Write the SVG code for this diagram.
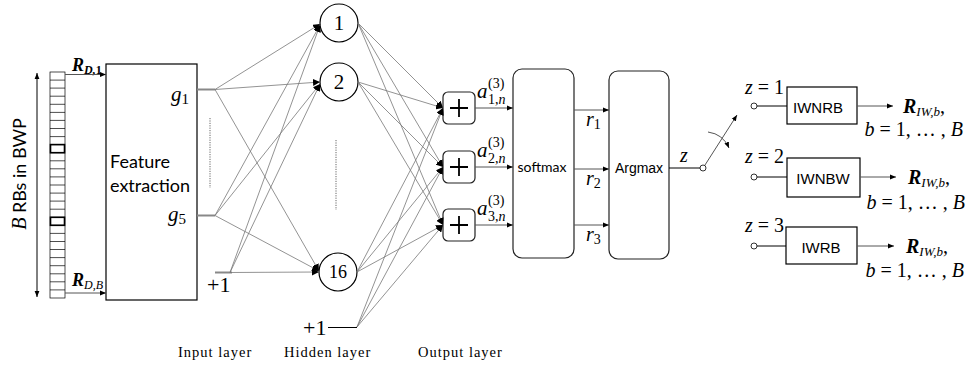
<svg xmlns="http://www.w3.org/2000/svg" width="969" height="369" viewBox="0 0 969 369">
<defs>
<style>
.box{fill:#fff;stroke:#000;stroke-width:1.2}
.rbox{fill:#fff;stroke:#222;stroke-width:1.2}
.cn{fill:none;stroke:#777;stroke-width:0.8}
.cd{fill:none;stroke:#555;stroke-width:1}
.thk{fill:none;stroke:#888;stroke-width:2}
.blk{fill:none;stroke:#000;stroke-width:1}
.dot{fill:none;stroke:#666;stroke-width:1;stroke-dasharray:1.2 1.2}
.math{font-family:"Liberation Serif","DejaVu Serif",serif;font-style:italic;fill:#000}
.num{font-family:"Liberation Serif","DejaVu Serif",serif;fill:#000}
.sans{font-family:Lato,"Open Sans","Liberation Sans",sans-serif;fill:#000}
.ar{font-family:"Liberation Sans",Arial,sans-serif;fill:#000}
.lay{font-family:"Liberation Serif","DejaVu Serif",serif;font-size:14.5px;letter-spacing:1px;fill:#000}
.cell{fill:#fff;stroke:#000;stroke-width:0.7}
</style>
<marker id="ah" viewBox="0 0 10 10" refX="10" refY="5" markerWidth="7" markerHeight="7" orient="auto" markerUnits="userSpaceOnUse"><path d="M0,0 L10,5 L0,10 z" fill="#000"/></marker>
<marker id="ahs" viewBox="0 0 10 10" refX="10" refY="5" markerWidth="6" markerHeight="6" orient="auto" markerUnits="userSpaceOnUse"><path d="M0,1 L10,5 L0,9 z" fill="#000"/></marker>
<marker id="ahu" viewBox="0 0 10 10" refX="10" refY="5" markerWidth="6" markerHeight="6" orient="auto-start-reverse" markerUnits="userSpaceOnUse"><path d="M0,1 L10,5 L0,9 z" fill="#000"/></marker>
</defs>
<rect width="969" height="369" fill="#fff"/>

<g id="bwp-label">
<text transform="translate(26,174) rotate(-90)" text-anchor="middle" font-size="18"><tspan class="math" font-size="20">B</tspan><tspan class="sans" font-family="Open Sans, Lato, sans-serif"> RBs in BWP</tspan></text>
<line x1="37" y1="73" x2="37" y2="297" class="blk" stroke-width="0.8" marker-start="url(#ahu)" marker-end="url(#ahu)"/>
</g>

<g id="rb-column">
<rect x="50" y="72" width="15" height="226" class="cell"/>
<path class="cell" fill="none" d="M50,80.1H65M50,88.1H65M50,96.2H65M50,104.3H65M50,112.4H65M50,120.4H65M50,128.5H65M50,136.6H65M50,144.6H65M50,152.7H65M50,160.8H65M50,168.8H65M50,176.9H65M50,185H65M50,193.1H65M50,201.1H65M50,209.2H65M50,217.3H65M50,225.3H65M50,233.4H65M50,241.5H65M50,249.5H65M50,257.6H65M50,265.7H65M50,273.8H65M50,281.8H65M50,289.9H65"/>
<rect x="50.5" y="144.6" width="14" height="8.1" fill="none" stroke="#000" stroke-width="1.6"/>
<rect x="50.5" y="217.3" width="14" height="8" fill="none" stroke="#000" stroke-width="1.6"/>
</g>

<g id="feature-extraction">
<rect x="106" y="64" width="91" height="236" class="box"/>
<text class="sans" font-family="Open Sans, Lato, sans-serif" font-size="18" x="110" y="168">Feature</text>
<text class="sans" font-family="Open Sans, Lato, sans-serif" font-size="18" x="110" y="192">extraction</text>
<text class="math" font-size="21" x="171" y="101">g<tspan font-style="normal" font-size="15" dy="3">1</tspan></text>
<text class="math" font-size="21" x="168" y="221">g<tspan font-style="normal" font-size="15" dy="3">5</tspan></text>
</g>

<g id="input-bias">
<text class="num" font-size="22" x="207" y="292">+1</text>
</g>

<g id="hidden-1"><circle cx="339" cy="23" r="19" class="box"/><text class="num" font-size="21" x="339" y="30" text-anchor="middle">1</text></g>
<g id="hidden-2"><circle cx="339" cy="82" r="19" class="box"/><text class="num" font-size="21" x="339" y="89" text-anchor="middle">2</text></g>
<g id="hidden-16"><circle cx="338" cy="272" r="19" class="box"/><text class="num" font-size="18" x="338" y="278" text-anchor="middle">16</text></g>
<g id="hidden-bias"><text class="num" font-size="22" x="303" y="335">+1</text></g>

<g id="sum-1"><rect x="443" y="92" width="32" height="32" rx="5" class="rbox"/><path d="M450,108H468M459,99V117" stroke="#000" stroke-width="1.8"/></g>
<g id="sum-2"><rect x="443" y="151" width="32" height="32" rx="5" class="rbox"/><path d="M450,167H468M459,158V176" stroke="#000" stroke-width="1.8"/></g>
<g id="sum-3"><rect x="443" y="209" width="32" height="32" rx="5" class="rbox"/><path d="M450,225H468M459,216V234" stroke="#000" stroke-width="1.8"/></g>

<g id="a-labels">
<text class="math" font-size="21" x="477" y="98">a</text><text class="num" font-size="14" x="488" y="88">(3)</text><text class="num" font-size="14" x="488" y="104">1,<tspan font-style="italic">n</tspan></text>
<text class="math" font-size="21" x="477" y="157">a</text><text class="num" font-size="14" x="488" y="147">(3)</text><text class="num" font-size="14" x="488" y="163">2,<tspan font-style="italic">n</tspan></text>
<text class="math" font-size="21" x="477" y="215">a</text><text class="num" font-size="14" x="488" y="205">(3)</text><text class="num" font-size="14" x="488" y="221">3,<tspan font-style="italic">n</tspan></text>
</g>

<g id="softmax"><rect x="513" y="69" width="61" height="189" rx="9" class="rbox"/><text class="sans" font-size="14" x="542" y="172" text-anchor="middle">softmax</text></g>
<g id="r-labels">
<text class="math" font-size="20" x="586" y="126">r<tspan font-style="normal" font-size="14" dy="3">1</tspan></text>
<text class="math" font-size="20" x="586" y="185">r<tspan font-style="normal" font-size="14" dy="3">2</tspan></text>
<text class="math" font-size="20" x="586" y="241">r<tspan font-style="normal" font-size="14" dy="3">3</tspan></text>
</g>
<g id="argmax"><rect x="609" y="71" width="60" height="188" rx="9" class="rbox"/><text class="ar" font-size="14" x="639" y="173" text-anchor="middle">Argmax</text></g>

<g id="switch">
<text class="math" font-size="20" x="680" y="162">z</text>
<circle cx="703" cy="168" r="3" fill="#fff" stroke="#000" stroke-width="0.8"/>
<line x1="705" y1="165" x2="737" y2="115" class="cd" stroke-width="0.8" marker-end="url(#ahs)"/>
<path d="M708,132 Q723,134 729,148" class="cd" stroke-width="0.8" marker-end="url(#ahs)"/>
</g>

<g id="iwnrb">
<text class="math" font-size="20" x="745" y="94">z <tspan font-style="normal">= 1</tspan></text>
<circle cx="754" cy="106" r="3" fill="#fff" stroke="#000" stroke-width="0.8"/>
<rect x="787" y="87" width="70" height="37" class="box"/>
<text class="ar" font-size="15" x="818" y="113" text-anchor="middle">IWNRB</text>
<text class="math" font-size="20" x="903" y="113"><tspan font-weight="bold">R</tspan><tspan font-size="13" dy="3">IW,b</tspan><tspan dy="-3" font-style="normal">,</tspan></text>
<text class="math" font-size="20" x="963" y="136" text-anchor="end">b <tspan font-style="normal">= 1, … , </tspan>B</text>
</g>
<g id="iwnbw">
<text class="math" font-size="20" x="745" y="163">z <tspan font-style="normal">= 2</tspan></text>
<circle cx="754" cy="177" r="3" fill="#fff" stroke="#000" stroke-width="0.8"/>
<rect x="787" y="158" width="73" height="39" class="box"/>
<text class="ar" font-size="15" x="823" y="184" text-anchor="middle">IWNBW</text>
<text class="math" font-size="20" x="908" y="184"><tspan font-weight="bold">R</tspan><tspan font-size="13" dy="3">IW,b</tspan><tspan dy="-3" font-style="normal">,</tspan></text>
<text class="math" font-size="20" x="965" y="209" text-anchor="end">b <tspan font-style="normal">= 1, … , </tspan>B</text>
</g>
<g id="iwrb">
<text class="math" font-size="20" x="745" y="232">z <tspan font-style="normal">= 3</tspan></text>
<circle cx="754" cy="246" r="3" fill="#fff" stroke="#000" stroke-width="0.8"/>
<rect x="786" y="227" width="71" height="37" class="box"/>
<text class="ar" font-size="15" x="821" y="253" text-anchor="middle">IWRB</text>
<text class="math" font-size="20" x="906" y="253"><tspan font-weight="bold">R</tspan><tspan font-size="13" dy="3">IW,b</tspan><tspan dy="-3" font-style="normal">,</tspan></text>
<text class="math" font-size="20" x="964" y="277" text-anchor="end">b <tspan font-style="normal">= 1, … , </tspan>B</text>
</g>

<g id="layer-labels">
<text class="lay" x="178" y="357">Input layer</text>
<text class="lay" x="284" y="357">Hidden layer</text>
<text class="lay" x="418" y="357">Output layer</text>
</g>

<g id="connectors">
<text class="math" font-size="18" x="72" y="71" font-weight="bold">R<tspan font-size="12" dy="3">D,</tspan><tspan font-size="12" font-style="normal">1</tspan></text>
<text class="math" font-size="18" x="72" y="286" font-weight="bold">R<tspan font-size="12" dy="3" font-weight="normal">D,B</tspan></text>
<line x1="65" y1="74.5" x2="106" y2="74.5" class="cd" stroke-width="0.8" marker-end="url(#ahs)"/>
<line x1="65" y1="293" x2="106" y2="293" class="cd" stroke-width="0.8" marker-end="url(#ahs)"/>
<line x1="197" y1="89.5" x2="215" y2="89.5" class="thk"/>
<line x1="197" y1="215.5" x2="215" y2="215.5" class="thk"/>
<line x1="215" y1="272.5" x2="232" y2="272.5" class="thk"/>
<line x1="210" y1="118" x2="210" y2="188" class="dot"/>
<line x1="336" y1="140" x2="336" y2="210" class="dot"/>
<path class="cn" marker-end="url(#ah)" d="M215,89.5L320,24"/>
<path class="cn" marker-end="url(#ah)" d="M215,89.5L320,82"/>
<path class="cn" marker-end="url(#ah)" d="M215,89.5L319,271"/>
<path class="cn" marker-end="url(#ah)" d="M215,215.5L320,25"/>
<path class="cn" marker-end="url(#ah)" d="M215,215.5L320,84"/>
<path class="cn" marker-end="url(#ah)" d="M215,215.5L319,271"/>
<path class="cn" marker-end="url(#ah)" d="M230,272.5L320,25"/>
<path class="cn" marker-end="url(#ah)" d="M230,272.5L320,84"/>
<path class="cn" marker-end="url(#ah)" d="M230,272.5L319,272"/>
<path class="cn" marker-end="url(#ah)" d="M358,23L443,108"/>
<path class="cn" marker-end="url(#ah)" d="M358,23L443,167"/>
<path class="cn" marker-end="url(#ah)" d="M358,23L443,225"/>
<path class="cn" marker-end="url(#ah)" d="M358,82L443,108"/>
<path class="cn" marker-end="url(#ah)" d="M358,82L443,167"/>
<path class="cn" marker-end="url(#ah)" d="M358,82L443,225"/>
<path class="cn" marker-end="url(#ah)" d="M357,272L443,108"/>
<path class="cn" marker-end="url(#ah)" d="M357,272L443,167"/>
<path class="cn" marker-end="url(#ah)" d="M357,272L443,225"/>
<line x1="328" y1="327.5" x2="357" y2="327.5" class="blk" stroke-width="1"/>
<path class="cn" marker-end="url(#ah)" d="M357,327L443,108"/>
<path class="cn" marker-end="url(#ah)" d="M357,327L443,167"/>
<path class="cn" marker-end="url(#ah)" d="M357,327L443,225"/>
<path class="cd" marker-end="url(#ahs)" d="M475,108H513"/>
<path class="cd" marker-end="url(#ahs)" d="M475,167H513"/>
<path class="cd" marker-end="url(#ahs)" d="M475,225H513"/>
<path class="cd" stroke="#999" marker-end="url(#ahs)" d="M574,110H609"/>
<path class="cd" stroke="#999" marker-end="url(#ahs)" d="M574,169H609"/>
<path class="cd" stroke="#999" marker-end="url(#ahs)" d="M574,225H609"/>
<path class="blk" d="M669,168H700"/>
<path class="blk" d="M757,106H787"/>
<path class="blk" d="M757,177H787"/>
<path class="blk" d="M757,246H786"/>
<path class="cd" stroke-width="0.8" marker-end="url(#ahs)" d="M857,106H893"/>
<path class="cd" stroke-width="0.8" marker-end="url(#ahs)" d="M860,177H896"/>
<path class="cd" stroke-width="0.8" marker-end="url(#ahs)" d="M857,246H894"/>
</g>
</svg>
